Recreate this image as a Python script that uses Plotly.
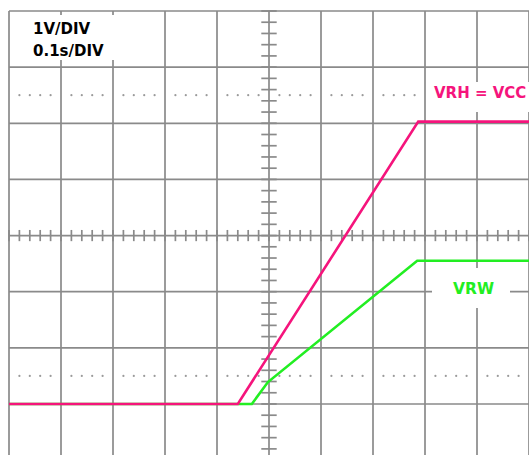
import numpy as np
import plotly.graph_objects as go

# ---------------- data ----------------
# time in seconds (0.1 s/div), voltage in volts (1 V/div)
t_vrh = [0.0, 0.440, 0.787, 1.0]
v_vrh = [0.0, 0.0, 5.03, 5.03]

t_vrw = [0.0, 0.467, 0.498, 0.785, 1.0]
v_vrw = [0.0, 0.0, 0.39, 2.55, 2.55]

scale_labels = ["1V/DIV", "0.1s/DIV"]
trace_labels = ["VRH = VCC", "VRW"]

# ---------------- styling / geometry ----------------
W, H = 529, 455
PINK = "#F5147C"
GREEN = "#22EE22"
GRID = "#8A8A8A"
DOT = "#9A9A9A"

PX_X = 52.0    # px per horizontal division
PX_Y = 56.14   # px per vertical division
X0 = 9         # px of left graticule edge
Y0 = 11        # px of top graticule edge
SEC_DIV = 0.1
V_TOP = 7.0

x_range = [-X0 / PX_X * SEC_DIV, (W - X0) / PX_X * SEC_DIV]
y_range = [V_TOP - (H - Y0) / PX_Y, V_TOP + Y0 / PX_Y]

def px(x):
    return x / W

def py(y):
    return 1 - y / H

fig = go.Figure()

# graticule lines (shapes, below traces)
shapes = []
for i in range(0, 11):
    t = i * SEC_DIV
    shapes.append(dict(type="line", xref="x", yref="y", x0=t, x1=t, y0=-1, y1=V_TOP,
                       line=dict(color=GRID, width=1.7), layer="below"))
for v in range(-1, 8):
    shapes.append(dict(type="line", xref="x", yref="y", x0=0, x1=1.0, y0=v, y1=v,
                       line=dict(color=GRID, width=1.7), layer="below"))

# dotted rise-time marker lines
sub_t = [k * 0.02 for k in range(0, 51) if k % 5 != 0]
for vd in [0.5, 5.5]:
    fig.add_trace(go.Scatter(x=sub_t, y=[vd] * len(sub_t), mode="markers",
                             marker=dict(size=2.2, color=DOT), hoverinfo="skip",
                             showlegend=False))

# centre-line minor ticks
ht = [k * 0.02 for k in range(0, 51)]
fig.add_trace(go.Scatter(x=ht, y=[3.0] * len(ht), mode="markers",
                         marker=dict(symbol="line-ns", size=8,
                                     line=dict(color=GRID, width=1.7)),
                         hoverinfo="skip", showlegend=False))
vt = [round(-0.8 + k * 0.2, 2) for k in range(0, 40)]
fig.add_trace(go.Scatter(x=[0.5] * len(vt), y=vt, mode="markers",
                         marker=dict(symbol="line-ew", size=11,
                                     line=dict(color=GRID, width=1.7)),
                         hoverinfo="skip", showlegend=False))

# signals
fig.add_trace(go.Scatter(x=t_vrw, y=v_vrw, mode="lines",
                         line=dict(color=GREEN, width=2.6), showlegend=False))
fig.add_trace(go.Scatter(x=t_vrh, y=v_vrh, mode="lines",
                         line=dict(color=PINK, width=2.6), showlegend=False))

# white label boxes (above traces)
for (xa, ya, xb, yb) in [(12, 15, 120, 60), (430, 82, 529, 112), (432, 268, 510, 308)]:
    shapes.append(dict(type="rect", xref="paper", yref="paper",
                       x0=px(xa), x1=px(xb), y0=py(yb), y1=py(ya),
                       fillcolor="white", line=dict(width=0), layer="above"))

fig.update_layout(shapes=shapes)

font_family = "DejaVu Sans, Liberation Sans, Arial"
ann = [
    dict(text="<b>%s</b>" % scale_labels[0], x=px(31), y=py(28.5), color="black", size=15),
    dict(text="<b>%s</b>" % scale_labels[1], x=px(31), y=py(50.5), color="black", size=15),
    dict(text="<b>%s</b>" % trace_labels[0], x=px(432), y=py(93.5), color=PINK, size=15),
    dict(text="<b>%s</b>" % trace_labels[1], x=px(451), y=py(288.5), color=GREEN, size=15.5),
]
for a in ann:
    fig.add_annotation(text=a["text"], xref="paper", yref="paper", x=a["x"], y=a["y"],
                       xanchor="left", yanchor="middle", showarrow=False,
                       font=dict(family=font_family, size=a["size"], color=a["color"]))

fig.update_layout(
    width=W, height=H,
    margin=dict(l=0, r=0, t=0, b=0),
    paper_bgcolor="white", plot_bgcolor="white",
    xaxis=dict(range=x_range, visible=False, fixedrange=True),
    yaxis=dict(range=y_range, visible=False, fixedrange=True),
    showlegend=False,
    hovermode=False,
)

fig.write_html("out.html",
               config={"displayModeBar": False, "staticPlot": True},
               post_script="document.body.style.margin='0';document.body.style.overflow='hidden';")
